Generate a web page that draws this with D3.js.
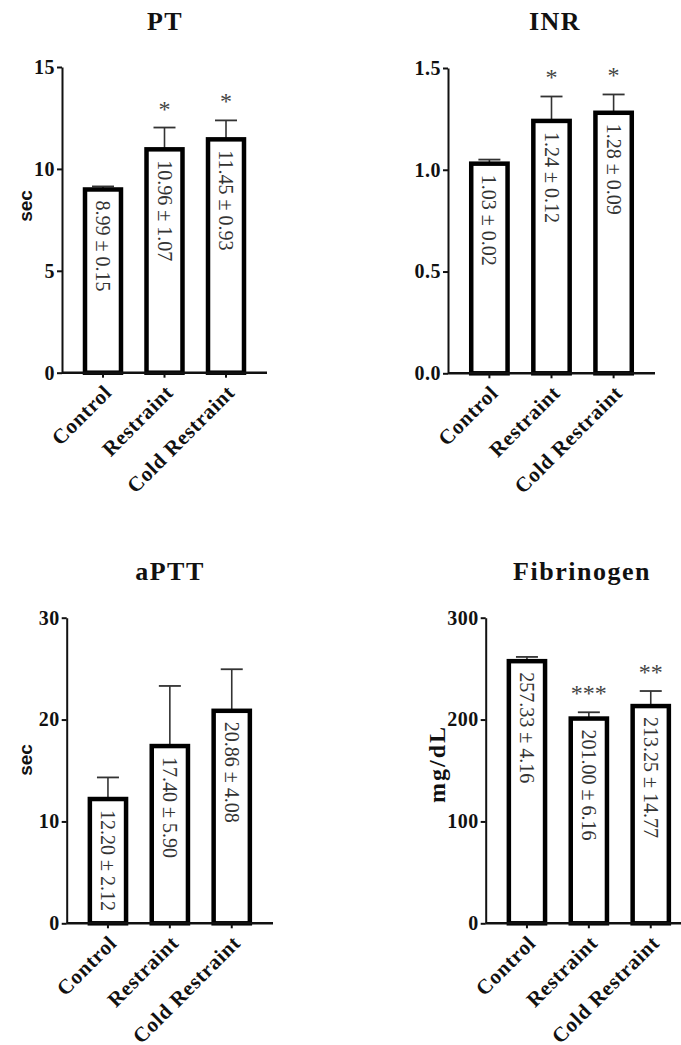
<!DOCTYPE html>
<html>
<head>
<meta charset="utf-8">
<script src="https://cdn.jsdelivr.net/npm/d3@7"></script>
<style>
  html, body { margin: 0; padding: 0; background: #fff; }
  svg { display: block; }
</style>
</head>
<body>
<svg id="chart" width="681" height="1045"></svg>
<script>
// ---- Data ----
const categories = ["Control", "Restraint", "Cold Restraint"];

const ptMean = [8.99, 10.96, 11.45];
const ptSD = [0.15, 1.07, 0.93];
const ptStars = ["", "*", "*"];
const ptTicks = [0, 5, 10, 15];

const inrMean = [1.03, 1.24, 1.28];
const inrSD = [0.02, 0.12, 0.09];
const inrStars = ["", "*", "*"];
const inrTicks = [0, 0.5, 1.0, 1.5];

const apttMean = [12.20, 17.40, 20.86];
const apttSD = [2.12, 5.90, 4.08];
const apttStars = ["", "", ""];
const apttTicks = [0, 10, 20, 30];

const fibMean = [257.33, 201.00, 213.25];
const fibSD = [4.16, 6.16, 14.77];
const fibStars = ["", "***", "**"];
const fibTicks = [0, 100, 200, 300];

const panels = [
  { title: "PT", mean: ptMean, sd: ptSD, stars: ptStars, ticks: ptTicks, fmt: d3.format("d"), valFmt: d3.format(".2f"),
    ylabel: "sec", ylabelSans: true, left: 62, right: 267, top: 67, bottom: 372.7, labX: 25, labY: 206, titleX: 165, titleY: 30 },
  { title: "INR", mean: inrMean, sd: inrSD, stars: inrStars, ticks: inrTicks, fmt: d3.format(".1f"), valFmt: d3.format(".2f"),
    ylabel: "", left: 448, right: 655, top: 68, bottom: 373.3, titleX: 555, titleY: 30 },
  { title: "aPTT", mean: apttMean, sd: apttSD, stars: apttStars, ticks: apttTicks, fmt: d3.format("d"), valFmt: d3.format(".2f"),
    ylabel: "sec", ylabelSans: true, left: 66.7, right: 273, top: 617.7, bottom: 923.3, labX: 25, labY: 760, titleX: 170, titleY: 580 },
  { title: "Fibrinogen", mean: fibMean, sd: fibSD, stars: fibStars, ticks: fibTicks, fmt: d3.format("d"), valFmt: d3.format(".2f"),
    ylabel: "mg/dL", ylabelSans: false, left: 485.7, right: 692, top: 617.7, bottom: 923.3, labX: 437, labY: 764, titleX: 582, titleY: 580 }
];

const svg = d3.select("#chart");
const serif = "'Liberation Serif', 'DejaVu Serif', serif";
const sans = "'Liberation Sans', Arial, sans-serif";

panels.forEach(p => {
  const g = svg.append("g");
  const maxV = p.ticks[p.ticks.length - 1];
  const y = d3.scaleLinear().domain([0, maxV]).range([p.bottom, p.top]);
  const x = d3.scaleBand().domain(categories).range([p.left, p.right])
    .paddingInner(0.415).paddingOuter(0.374);

  // Title
  g.append("text")
    .attr("x", p.titleX).attr("y", p.titleY)
    .attr("text-anchor", "middle")
    .style("font-family", serif).style("font-weight", "bold").style("font-size", "26px")
    .style("letter-spacing", "1.5px")
    .attr("fill", "#111")
    .text(p.title);

  // Y axis
  const ya = g.append("g").attr("transform", `translate(${p.left},0)`)
    .call(d3.axisLeft(y).tickValues(p.ticks).tickFormat(p.fmt).tickSize(5).tickSizeOuter(0).tickPadding(2));
  ya.select(".domain").attr("stroke", "#111").attr("stroke-width", 2);
  ya.selectAll(".tick line").attr("stroke", "#111").attr("stroke-width", 2);
  ya.selectAll(".tick text")
    .style("font-family", serif).style("font-weight", "bold").style("font-size", "20px")
    .style("letter-spacing", "0.5px")
    .attr("fill", "#111");

  const data = categories.map((c, i) => ({ c, m: p.mean[i], s: p.sd[i], star: p.stars[i] }));

  // Error bars (upper only)
  const capW = 22;
  g.selectAll(".err").data(data).enter().append("line")
    .attr("x1", d => x(d.c) + x.bandwidth() / 2).attr("x2", d => x(d.c) + x.bandwidth() / 2)
    .attr("y1", d => y(d.m)).attr("y2", d => y(d.m + d.s))
    .attr("stroke", "#333").attr("stroke-width", 1.6);
  g.selectAll(".cap").data(data).enter().append("line")
    .attr("x1", d => x(d.c) + x.bandwidth() / 2 - capW / 2).attr("x2", d => x(d.c) + x.bandwidth() / 2 + capW / 2)
    .attr("y1", d => y(d.m + d.s)).attr("y2", d => y(d.m + d.s))
    .attr("stroke", "#333").attr("stroke-width", 1.8);

  // Bars
  g.selectAll(".bar").data(data).enter().append("rect")
    .attr("x", d => x(d.c)).attr("width", x.bandwidth())
    .attr("y", d => y(d.m)).attr("height", d => y(0) - y(d.m))
    .attr("fill", "#fff").attr("stroke", "#000").attr("stroke-width", 4.5);

  // X axis
  const xa = g.append("g").attr("transform", `translate(0,${p.bottom})`)
    .call(d3.axisBottom(x).tickSize(5).tickSizeOuter(0).tickFormat(""));
  xa.select(".domain").attr("stroke", "#111").attr("stroke-width", 2.5)
    .attr("d", `M${p.left},0H${p.right}`);
  xa.selectAll(".tick line").attr("stroke", "#111").attr("stroke-width", 2);

  // Category labels
  g.selectAll(".cat").data(data).enter().append("text")
    .attr("transform", d => `translate(${x(d.c) + x.bandwidth() / 2 + 10},${p.bottom + 21}) rotate(-45)`)
    .attr("text-anchor", "end")
    .style("font-family", serif).style("font-weight", "bold").style("font-size", "21px")
    .style("letter-spacing", "0.7px")
    .attr("fill", "#111")
    .text(d => d.c);

  // Value labels inside bars
  g.selectAll(".val").data(data).enter().append("text")
    .attr("transform", d => `translate(${x(d.c) + x.bandwidth() / 2},${y(d.m) + 11}) rotate(90)`)
    .attr("text-anchor", "start").attr("dy", "0.35em")
    .style("font-family", serif).style("font-size", "20px")
    .attr("fill", "#333")
    .text(d => `${p.valFmt(d.m)} ± ${p.valFmt(d.s)}`);

  // Significance stars
  g.selectAll(".star").data(data.filter(d => d.star)).enter().append("text")
    .attr("x", d => x(d.c) + x.bandwidth() / 2)
    .attr("y", d => y(d.m + d.s) - 11)
    .attr("text-anchor", "middle")
    .style("font-family", serif).style("font-size", "24px")
    .attr("fill", "#444")
    .text(d => d.star);

  // Y label
  if (p.ylabel) {
    const t = g.append("text")
      .attr("transform", `translate(${p.labX},${p.labY}) rotate(-90)`)
      .attr("text-anchor", "middle").attr("dy", "0.35em")
      .style("font-family", p.ylabelSans ? sans : serif).style("font-weight", "bold")
      .style("font-size", p.ylabelSans ? "19px" : "24px")
      .attr("fill", "#111")
      .text(p.ylabel);
    if (!p.ylabelSans) t.style("letter-spacing", "2px");
  }
});
</script>
</body>
</html>
